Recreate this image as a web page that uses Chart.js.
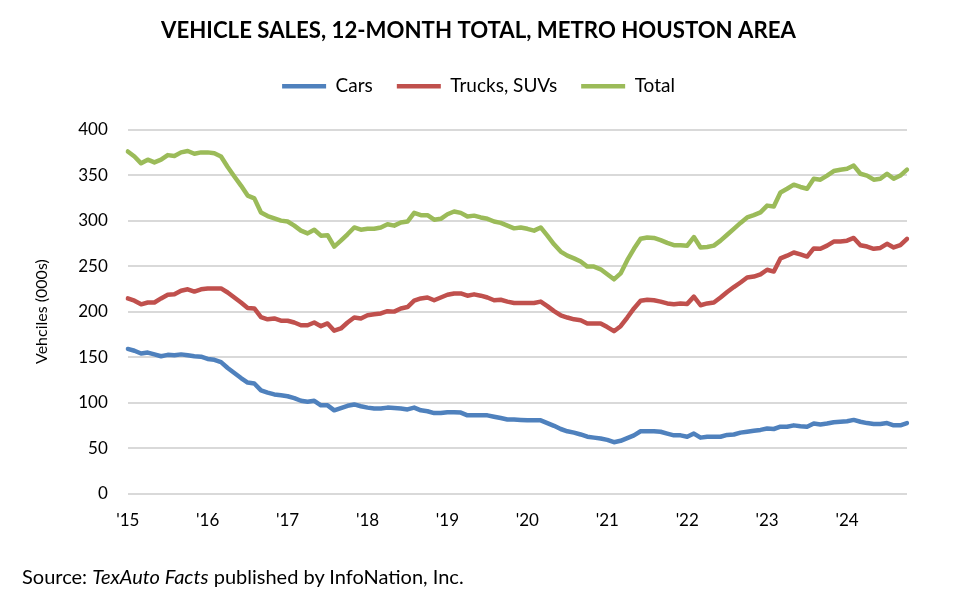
<!DOCTYPE html>
<html>
<head>
<meta charset="utf-8">
<script src="https://cdn.jsdelivr.net/npm/chart.js@4.4.1/dist/chart.umd.min.js"></script>
<style>
  body { margin: 0; background: #fff; }
  #wrap { position: relative; width: 959px; height: 597px; }
  #source {
    position: absolute; left: 22px; top: 564px;
    font-family: Lato, sans-serif; font-size: 20px; color: #000;
  }
</style>
</head>
<body>
<div id="wrap">
  <canvas id="salesChart" width="959" height="597"></canvas>
  <div id="source">Source: <i>TexAuto Facts</i> published by InfoNation, Inc.</div>
</div>
<script>
// monthly, Jan 2015 .. Oct 2024, 12-month totals in thousands
const startYear = 2015
const monthCount = 118

const cars = [
  159, 157, 154, 155, 153, 151, 152.5, 152, 153, 152, 151, 150.5,
  148, 147, 144.5, 138, 132.5, 127, 122, 121, 113.5, 111, 109, 108,
  107, 105, 102, 101, 102, 97, 97, 91.5, 94, 96.5, 98, 96,
  94.5, 93.5, 93.5, 94.5, 94, 93.5, 92.5, 94.5, 91.5, 90.5, 88.5, 88.5,
  89.5, 89.5, 89, 86, 86, 86, 86, 84.5, 83, 81.5, 81.5, 81,
  80.5, 80.5, 80.5, 77.5, 74.5, 71, 68.5, 67, 65, 62.5, 61.5, 60.5,
  59, 56.5, 58, 61, 64, 68.5, 68.5, 68.5, 68, 66, 64, 64,
  62.5, 66, 61.5, 62.5, 62.5, 62.5, 64.5, 65, 67, 68, 69, 70,
  71.5, 71, 73.5, 73.5, 75, 74, 73.5, 77, 76, 77, 78.5, 79,
  79.5, 81, 79, 77.5, 76.5, 76.5, 77.5, 75, 75, 77.5
]

const trucks = [
  214.5, 212, 208, 210, 210, 214.5, 218.5, 219, 223, 224.5, 222, 224.5,
  225.5, 225.5, 225.5, 221, 215.5, 210, 204, 203.5, 194, 191.5, 192.5, 190,
  190, 188, 185, 185, 188, 184, 187, 179, 181.5, 188, 193.5, 192.5,
  196, 197, 198, 200.5, 200, 203.5, 205, 212, 214.5, 215.5, 212.5, 215.5,
  218.5, 220, 220, 217.5, 219, 217.5, 215.5, 212.5, 213, 211, 209.5, 209.5,
  209.5, 209.5, 211, 206, 200.5, 196, 193.5, 191.5, 190.5, 187, 187, 187,
  183, 178.5, 184, 193.5, 203.5, 212, 213, 212.5, 211, 209, 208, 209,
  208.5, 216.5, 207, 209, 210, 215.5, 221.5, 227, 232, 237.5, 238.5, 241,
  246, 244, 258.5, 261.5, 265, 263, 260.5, 269.5, 269, 272.5, 277, 277,
  278, 281, 273, 271.5, 269, 270, 274.5, 270.5, 273, 280
]

const totals = [
  376, 370.5, 363, 367, 364, 367, 372, 371, 375, 376.5, 373.5, 375,
  375, 374, 370.5, 359, 348.5, 338.5, 327.5, 324.5, 309, 305, 302.5, 300,
  299, 294.5, 289, 286, 290, 283.5, 284, 271.5, 278, 285, 292.5, 290,
  291, 291, 292.5, 296, 294.5, 298, 299, 308.5, 306, 306, 301, 302,
  307, 310, 308.5, 304.5, 305.5, 303.5, 302, 299, 297.5, 294.5, 291.5, 292.5,
  291, 289, 292.5, 283.5, 274, 266, 261.5, 258.5, 255, 249.5, 249.5, 246.5,
  241, 235.5, 242, 256.5, 269, 280, 281.5, 281, 278.5, 275.5, 273, 273,
  272.5, 282, 270.5, 271, 272.5, 278, 284.5, 291, 297.5, 303.5, 306, 309,
  316.5, 315.5, 331, 335, 339.5, 337, 335, 346, 345, 349.5, 354.5, 356,
  357, 360.5, 351.5, 349.5, 345, 346, 351.5, 346, 349.5, 356
]

const monthLabels = []
for (let i = 0; i < monthCount; i++) {
  const y = startYear + Math.floor(i / 12)
  const m = (i % 12) + 1
  monthLabels.push(y + "-" + String(m).padStart(2, "0"))
}

const yTicks = [0, 50, 100, 150, 200, 250, 300, 350, 400]

const FONT = "Lato, 'Open Sans', sans-serif"
const LINE_W = 4.5

// push the plot down below the legend, and center title/legend on the page
const layoutTweaks = {
  id: "layoutTweaks",
  beforeInit(chart) {
    const fit = chart.legend.fit
    chart.legend.fit = function () {
      fit.bind(this)()
      this.height += 24
    }
  },
  afterLayout(chart) {
    const shift = 15
    for (const box of [chart.titleBlock, chart.legend]) {
      box.left += shift
      box.right += shift
    }
  }
}

const ctx = document.getElementById("salesChart")

new Chart(ctx, {
  type: "line",
  data: {
    labels: monthLabels,
    datasets: [
      { label: "Cars", data: cars, borderColor: "#4f81bd", backgroundColor: "#4f81bd", borderWidth: LINE_W },
      { label: "Trucks, SUVs", data: trucks, borderColor: "#c0504d", backgroundColor: "#c0504d", borderWidth: LINE_W },
      { label: "Total", data: totals, borderColor: "#9bbb59", backgroundColor: "#9bbb59", borderWidth: LINE_W }
    ]
  },
  plugins: [layoutTweaks],
  options: {
    responsive: false,
    animation: false,
    layout: {
      padding: { left: 20, right: 52, top: 0, bottom: 49 }
    },
    elements: {
      line: { tension: 0, borderCapStyle: "round", borderJoinStyle: "round" },
      point: { radius: 0, hoverRadius: 0 }
    },
    plugins: {
      title: {
        display: true,
        text: "VEHICLE SALES, 12-MONTH TOTAL, METRO HOUSTON AREA",
        color: "#000",
        font: { family: FONT, size: 22.2, weight: "bold" },
        padding: { top: 18, bottom: 8 }
      },
      legend: {
        position: "top",
        labels: {
          usePointStyle: true,
          pointStyle: "line",
          pointStyleWidth: 44,
          color: "#000",
          font: { family: FONT, size: 19 },
          padding: 24
        }
      },
      tooltip: { enabled: false }
    },
    scales: {
      x: {
        grid: { display: false, drawTicks: false },
        border: { display: false },
        ticks: {
          autoSkip: false,
          maxRotation: 0,
          color: "#000",
          padding: 17,
          font: { family: FONT, size: 17 },
          callback: (value, index) => index % 12 === 0 ? "'" + monthLabels[index].slice(2, 4) : null
        }
      },
      y: {
        min: 0,
        max: 400,
        afterBuildTicks: (axis) => { axis.ticks = yTicks.map(v => ({ value: v })) },
        grid: { color: "#d9d9d9", lineWidth: 2, drawTicks: false },
        border: { display: false },
        ticks: {
          color: "#000",
          padding: 20,
          font: { family: FONT, size: 17 }
        },
        title: {
          display: true,
          text: "Vehciles (000s)",
          color: "#000",
          font: { family: FONT, size: 16 },
          padding: { top: 12, bottom: 7 }
        }
      }
    }
  }
})
</script>
</body>
</html>
